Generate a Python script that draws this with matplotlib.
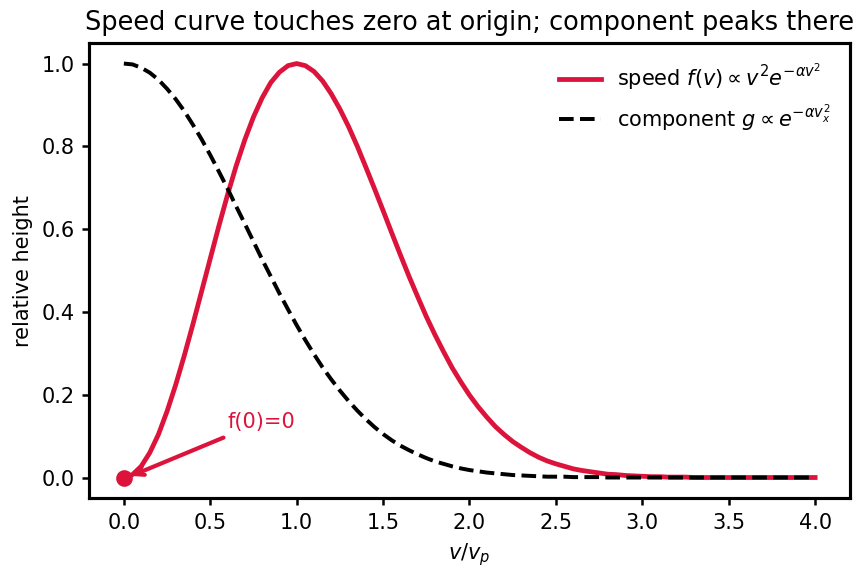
"""
plot.py - speed vs component distribution curves (normalised heights).
"""
import matplotlib
matplotlib.use("Agg")
import matplotlib.pyplot as plt
import numpy as np

# ── data (0.05 steps in v/v_p) ────────────────────────────────────────────
v = np.round(np.arange(0, 4.001, 0.05), 2)

speed = [
    0.000, 0.007, 0.027, 0.060, 0.104, 0.160, 0.224, 0.295, 0.371, 0.450,
    0.529, 0.608, 0.683, 0.753, 0.816, 0.871, 0.917, 0.954, 0.979, 0.995,
    1.000, 0.995, 0.981, 0.958, 0.927, 0.890, 0.848, 0.801, 0.750, 0.698,
    0.645, 0.591, 0.538, 0.486, 0.437, 0.389, 0.345, 0.304, 0.265, 0.231,
    0.199, 0.171, 0.146, 0.123, 0.104, 0.087, 0.073, 0.060, 0.049, 0.040,
    0.033, 0.027, 0.021, 0.017, 0.014, 0.011, 0.008, 0.007, 0.005, 0.004,
    0.003, 0.002, 0.002, 0.001, 0.001, 0.001, 0.000, 0.000, 0.000, 0.000,
    0.000, 0.000, 0.000, 0.000, 0.000, 0.000, 0.000, 0.000, 0.000, 0.000,
    0.000,
]

component = [
    1.000, 0.998, 0.990, 0.978, 0.961, 0.939, 0.914, 0.885, 0.852, 0.817,
    0.779, 0.739, 0.698, 0.655, 0.613, 0.570, 0.527, 0.486, 0.445, 0.406,
    0.368, 0.332, 0.298, 0.266, 0.237, 0.210, 0.185, 0.162, 0.141, 0.122,
    0.105, 0.090, 0.077, 0.066, 0.056, 0.047, 0.039, 0.033, 0.027, 0.022,
    0.018, 0.015, 0.012, 0.010, 0.008, 0.006, 0.005, 0.004, 0.003, 0.002,
    0.002, 0.002, 0.001, 0.001, 0.001, 0.001, 0.000, 0.000, 0.000, 0.000,
    0.000, 0.000, 0.000, 0.000, 0.000, 0.000, 0.000, 0.000, 0.000, 0.000,
    0.000, 0.000, 0.000, 0.000, 0.000, 0.000, 0.000, 0.000, 0.000, 0.000,
    0.000,
]

origin = (0.0, 0.0)
note_at = (0.6, 0.12)

RED = "crimson"

# ── figure ────────────────────────────────────────────────────────────────
plt.rcParams["axes.linewidth"] = 1.5
plt.rcParams["xtick.major.width"] = 1.2
plt.rcParams["ytick.major.width"] = 1.2
fig, ax = plt.subplots(figsize=(5.78, 3.867), dpi=150)
fig.subplots_adjust(left=0.103, right=0.980, top=0.926, bottom=0.141)

ax.plot(v, speed, color=RED, lw=2.3,
        label=r"speed $f(v) \propto v^2 e^{-\alpha v^2}$")
ax.plot(v, component, color="black", lw=1.9, ls="--",
        label=r"component $g \propto e^{-\alpha v_x^2}$")
ax.plot(*origin, "o", color=RED, ms=7)

ax.annotate("f(0)=0", xy=(0.02, 0.0), xytext=note_at, color=RED,
            fontsize=10,
            arrowprops=dict(arrowstyle="->", color=RED, lw=2))

ax.set_title("Speed curve touches zero at origin; component peaks there",
             fontsize=12.3)
ax.set_xlabel(r"$v/v_p$")
ax.set_ylabel("relative height")
ax.legend(loc="upper right", frameon=False, fontsize=10)

fig.savefig("out.png")
